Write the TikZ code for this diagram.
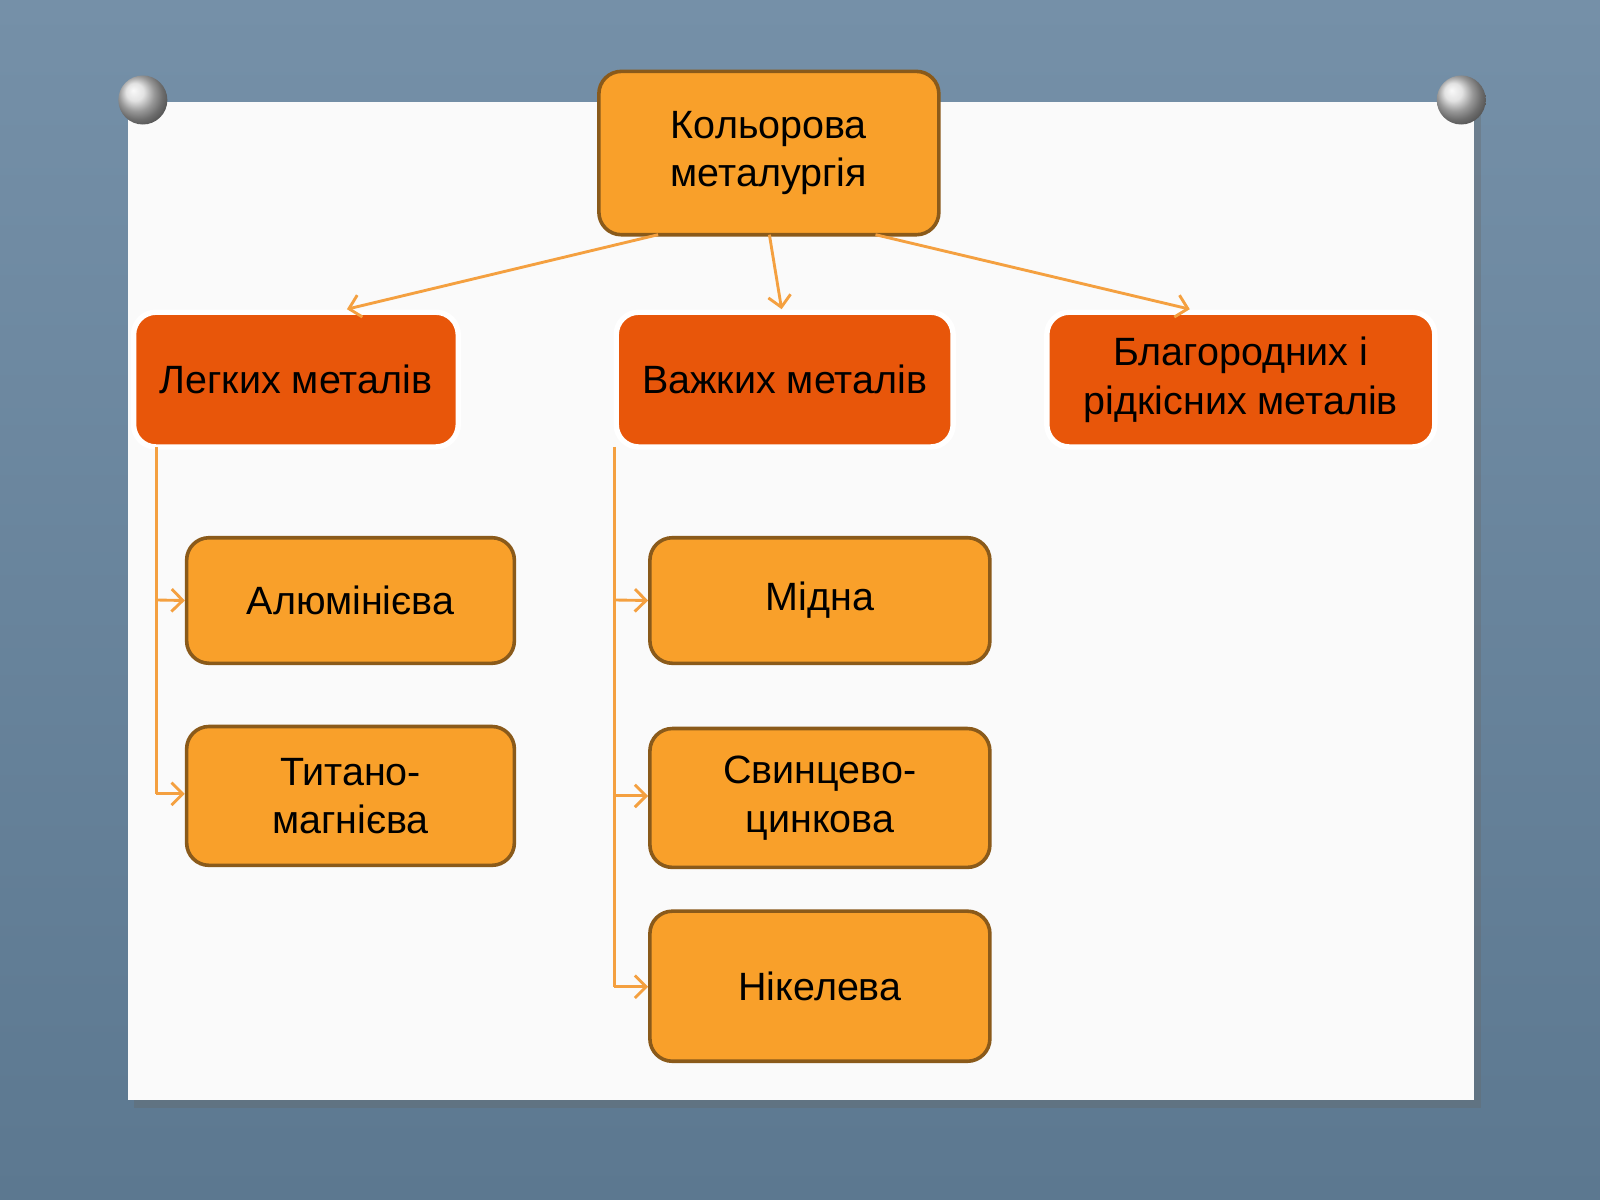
\documentclass[tikz,border=0pt]{standalone}
\usepackage{fontspec}
\setmainfont{Liberation Sans}
\usetikzlibrary{arrows.meta}
\definecolor{lt}{HTML}{F9A02A}
\definecolor{dk}{HTML}{E8560A}
\definecolor{ln}{HTML}{F4A040}
\definecolor{bd}{HTML}{8A5A1A}
\definecolor{bgt}{HTML}{7590A8}
\definecolor{bgb}{HTML}{5C7890}
\tikzset{
 lbox/.style={draw=bd,line width=1pt,fill=lt,rounded corners=0.22cm,align=center,font=\fontsize{11}{13.5}\selectfont,inner sep=0pt},
 dbox/.style={draw=white,line width=1.5pt,fill=dk,rounded corners=0.22cm,align=center,font=\fontsize{11}{13.5}\selectfont,inner sep=0pt},
 conn/.style={draw=ln,line width=0.8pt,-{Straight Barb[length=1.1mm,width=2.2mm]}},
 trunk/.style={draw=ln,line width=0.8pt}
}
\begin{document}
\begin{tikzpicture}[x=0.01cm,y=-0.01cm]
\shade[top color=bgt,bottom color=bgb] (0,0) rectangle (1568,1176);
\useasboundingbox (0,0) rectangle (1568,1176);
\fill[black!60,opacity=0.35] (131,106) rectangle (1451,1086);
\fill[white!96!gray] (125,100) rectangle (1445,1078);
\foreach \p in {(140,98),(1432,98)}{\shade[ball color=gray!30] \p circle (0.24cm);}
\node[lbox,minimum width=3.33cm,minimum height=1.6cm] (top) at (753.5,150) {Кольорова\\металургія};
\node[dbox,minimum width=3.18cm,minimum height=1.32cm] (l) at (290,372) {Легких металів};
\node[dbox,minimum width=3.30cm,minimum height=1.32cm] (h) at (769,372) {Важких металів};
\node[dbox,minimum width=3.80cm,minimum height=1.32cm] (b) at (1216,372) {Благородних і\\рідкісних металів};
\node[lbox,minimum width=3.21cm,minimum height=1.23cm] (a) at (343.5,588.5) {Алюмінієва};
\node[lbox,minimum width=3.21cm,minimum height=1.36cm] (t) at (343.5,780) {Титано-\\магнієва};
\node[lbox,minimum width=3.33cm,minimum height=1.23cm] (m) at (803.5,588.5) {Мідна};
\node[lbox,minimum width=3.33cm,minimum height=1.36cm] (s) at (803.5,782) {Свинцево-\\цинкова};
\node[lbox,minimum width=3.33cm,minimum height=1.47cm] (n) at (803.5,966.5) {Нікелева};
\coordinate (t1) at (645,230); \coordinate (t2) at (754,230); \coordinate (t3) at (858,230);
\draw[conn] (t1) -- (340,303);
\draw[conn] (t2) -- (766,303);
\draw[conn] (t3) -- (1166,303);
\coordinate (lv) at (153,438); \coordinate (hv) at (602,438);
\draw[trunk] (lv) -- (153,778);
\draw[conn] (153,588) -- (a.west);
\draw[conn] (153,778) -- (t.west |- 0,778);
\draw[trunk] (hv) -- (602,967);
\draw[conn] (602,588) -- (m.west);
\draw[conn] (602,780) -- (s.west |- 0,780);
\draw[conn] (602,967) -- (n.west |- 0,967);
\end{tikzpicture}
\end{document}
